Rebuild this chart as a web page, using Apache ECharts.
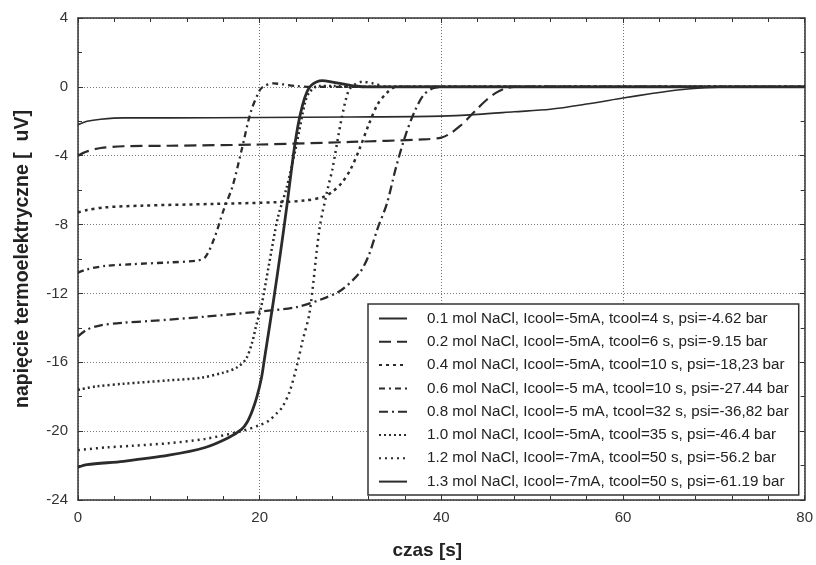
<!DOCTYPE html>
<html>
<head>
<meta charset="utf-8">
<script src="https://cdn.jsdelivr.net/npm/echarts@6/dist/echarts.min.js"></script>
<style>html,body{margin:0;padding:0;background:#fff}#c{width:816px;height:565px}</style>
</head>
<body>
<div id="c"></div>
<script>
// ---- data ----
const names = [
  "0.1 mol NaCl, Icool=-5mA, tcool=4 s, psi=-4.62 bar",
  "0.2 mol NaCl, Icool=-5mA, tcool=6 s, psi=-9.15 bar",
  "0.4 mol NaCl, Icool=-5mA, tcool=10 s, psi=-18,23 bar",
  "0.6 mol NaCl, Icool=-5 mA, tcool=10 s, psi=-27.44 bar",
  "0.8 mol NaCl, Icool=-5 mA, tcool=32 s, psi=-36,82 bar",
  "1.0 mol NaCl, Icool=-5mA, tcool=35 s, psi=-46.4 bar",
  "1.2 mol NaCl, Icool=-7mA, tcool=50 s, psi=-56.2 bar",
  "1.3 mol NaCl, Icool=-7mA, tcool=50 s, psi=-61.19 bar"
];
const x01 = [0, 1, 2.5, 5, 10, 20, 30, 40, 44, 48, 52, 56, 60, 63, 66, 69, 72, 76, 80];
const y01 = [-2.2, -2.0, -1.88, -1.8, -1.8, -1.78, -1.75, -1.7, -1.6, -1.45, -1.3, -1.0, -0.65, -0.4, -0.18, -0.05, 0, 0, 0];
const x02 = [0, 1, 2.5, 5, 10, 20, 30, 38, 40, 41, 42, 43, 44, 45, 46, 47, 48, 55, 80];
const y02 = [-4.0, -3.75, -3.55, -3.45, -3.42, -3.35, -3.2, -3.05, -2.95, -2.7, -2.3, -1.8, -1.25, -0.75, -0.35, -0.1, 0, 0, 0];
const x04 = [0, 1, 3, 7, 15, 22, 25, 27, 28, 29, 30, 31, 32, 33, 34, 35, 40, 80];
const y04 = [-7.3, -7.15, -7.0, -6.9, -6.8, -6.7, -6.6, -6.4, -6.1, -5.6, -4.8, -3.6, -2.2, -1.0, -0.35, 0, 0, 0];
const x06 = [0, 1, 3, 6, 10, 13, 14, 15, 16, 17, 18, 19, 20, 20.5, 21.5, 22.5, 24, 26, 80];
const y06 = [-10.8, -10.6, -10.4, -10.3, -10.2, -10.1, -9.9, -8.8, -7.2, -5.8, -3.7, -1.5, -0.2, 0.05, 0.2, 0.15, 0.05, 0, 0];
const x08 = [0, 1, 2.5, 5, 8, 14, 20, 24, 27, 29, 31, 32, 33, 34, 35, 36, 37, 38, 39, 40, 80];
const y08 = [-14.5, -14.1, -13.85, -13.7, -13.6, -13.35, -13.05, -12.8, -12.3, -11.8, -10.8, -9.8, -8.2, -6.8, -4.7, -2.9, -1.5, -0.5, -0.1, 0, 0];
const x10 = [0, 2, 5, 10, 13.5, 16, 17.5, 18.5, 19.2, 19.6, 20.2, 21, 22, 23, 24, 25, 25.5, 26.5, 28, 30, 80];
const y10 = [-17.6, -17.4, -17.25, -17.05, -16.9, -16.6, -16.3, -15.8, -14.8, -13.9, -12.7, -10.4, -7.6, -5.8, -3.5, -0.9, -0.3, 0.05, 0.05, 0, 0];
const x12 = [0, 3, 6, 10, 14, 18, 20, 21, 22, 22.5, 23.3, 24.1, 24.7, 25.5, 26.6, 27.5, 28, 29, 29.8, 30.5, 31.3, 32.5, 34, 80];
const y12 = [-21.1, -20.95, -20.85, -20.7, -20.45, -20.0, -19.65, -19.4, -18.9, -18.6, -17.7, -16.2, -14.8, -13.1, -8.2, -5.9, -4.8, -1.9, -0.2, 0.15, 0.3, 0.2, 0, 0];
const x13 = [0, 1, 5, 10, 14, 16.5, 18, 18.6, 19.2, 19.7, 20.2, 20.5, 21.5, 22.3, 23, 23.7, 24.2, 24.7, 25.2, 25.7, 26.3, 26.9, 28, 29.1, 30.5, 32, 80];
const y13 = [-22.1, -21.95, -21.75, -21.4, -20.95, -20.4, -19.9, -19.5, -18.8, -18.0, -16.9, -15.9, -12.5, -9.6, -6.9, -4.0, -2.3, -1.1, -0.3, 0.1, 0.3, 0.36, 0.28, 0.18, 0.05, 0, 0];
const xTicks = [0, 20, 40, 60, 80];
const yTicks = [-24, -20, -16, -12, -8, -4, 0, 4];

const xs = [x01, x02, x04, x06, x08, x10, x12, x13];
const ys = [y01, y02, y04, y06, y08, y10, y12, y13];
const styles = [
  {width: 1.6, type: 'solid'},
  {width: 2.2, type: [12, 6]},
  {width: 2.5, type: [3, 4]},
  {width: 2.3, type: [6, 4, 2, 4]},
  {width: 2.3, type: [9, 4, 2, 4]},
  {width: 2.5, type: [2, 3]},
  {width: 2.5, type: [2, 4]},
  {width: 2.8, type: 'solid'}
];
const ink = '#2b2b2b';

const series = names.map((n, k) => ({
  name: n,
  type: 'line',
  data: xs[k].map((x, i) => [x, ys[k][i]]),
  showSymbol: false,
  symbol: 'none',
  smooth: 0.3,
  lineStyle: {color: ink, width: styles[k].width, type: styles[k].type},
  itemStyle: {color: ink},
  z: 3
}));

const axisCommon = {
  axisLine: {show: true, onZero: false, lineStyle: {color: '#333', width: 1.5}},
  axisTick: {show: true, inside: true, length: 5, lineStyle: {color: '#333'}}
};

const chart = echarts.init(document.getElementById('c'), null, {renderer: 'canvas'});
chart.setOption({
  backgroundColor: '#fff',
  animation: false,
  textStyle: {fontFamily: 'Liberation Sans, Arial, sans-serif'},
  grid: {left: 78, right: 9, top: 18, bottom: 63, containLabel: false},
  legend: {
    orient: 'vertical',
    left: 368, top: 304,
    padding: [7, 10, 6, 10],
    itemGap: 8.3,
    itemWidth: 28,
    itemHeight: 16,
    backgroundColor: '#fff',
    borderColor: '#333',
    borderWidth: 1.5,
    borderRadius: 0,
    itemStyle: {opacity: 0},
    textStyle: {fontSize: 15.2, color: '#222', padding: [0, 0, 0, 15]},
    data: names
  },
  xAxis: [
    Object.assign({
      type: 'value', min: 0, max: 80, interval: 20, position: 'bottom',
      name: 'czas [s]', nameLocation: 'middle', nameGap: 41,
      nameTextStyle: {fontSize: 19, fontWeight: 'bold', color: '#222', padding: [0, 28, 0, 0]},
      axisLabel: {fontSize: 15, color: '#333', margin: 10,
        formatter: v => xTicks.includes(v) ? String(v) : ''},
      splitLine: {show: true, lineStyle: {color: '#777', type: [1, 2], width: 1}}
    }, axisCommon, {minorTick: {show: true, splitNumber: 5, length: 4, lineStyle: {color: '#333'}}}),
    Object.assign({
      type: 'value', min: 0, max: 80, interval: 20, position: 'top',
      axisLabel: {show: false}, splitLine: {show: false}
    }, axisCommon, {minorTick: {show: true, splitNumber: 5, length: 4, lineStyle: {color: '#333'}}})
  ],
  yAxis: [
    Object.assign({
      type: 'value', min: -24, max: 4, interval: 4, position: 'left',
      name: 'napięcie termoelektryczne [  uV]', nameLocation: 'middle', nameGap: 45,
      nameTextStyle: {fontSize: 19.5, fontWeight: 'bold', color: '#222'},
      axisLabel: {fontSize: 15, color: '#333', margin: 10,
        formatter: v => yTicks.includes(v) ? String(v) : ''},
      splitLine: {show: true, lineStyle: {color: '#777', type: [1, 2], width: 1}}
    }, axisCommon, {minorTick: {show: true, splitNumber: 2, length: 4, lineStyle: {color: '#333'}}}),
    Object.assign({
      type: 'value', min: -24, max: 4, interval: 4, position: 'right',
      axisLabel: {show: false}, splitLine: {show: false}
    }, axisCommon, {minorTick: {show: true, splitNumber: 2, length: 4, lineStyle: {color: '#333'}}})
  ],
  series: series
});
</script>
</body>
</html>
